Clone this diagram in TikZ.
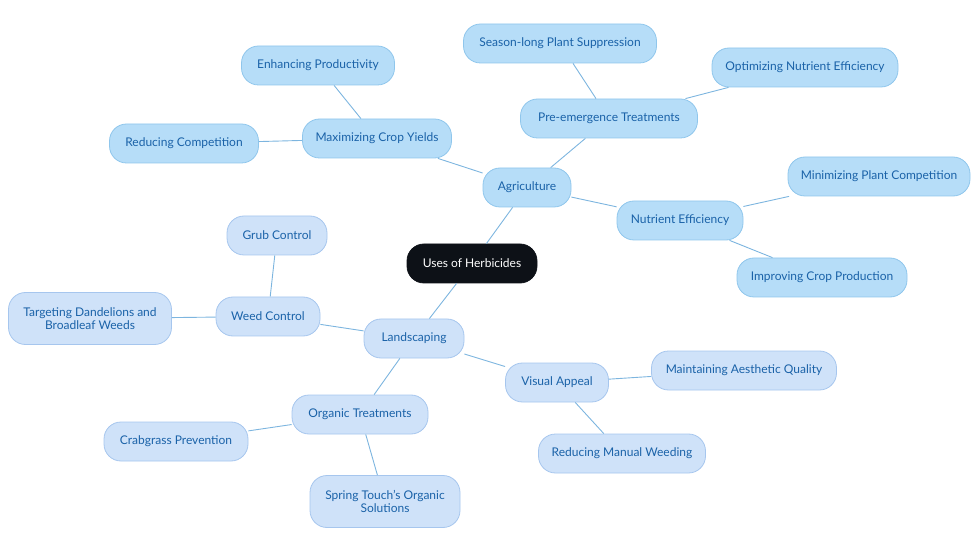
\documentclass[tikz,border=0pt]{standalone}
\usepackage{fontspec}
\setmainfont{Lato}
\definecolor{agfill}{HTML}{B6DDF8}
\definecolor{agdraw}{HTML}{8FC6EC}
\definecolor{lsfill}{HTML}{CFE2F9}
\definecolor{lsdraw}{HTML}{A6C6EE}
\definecolor{txt}{HTML}{1A62A8}
\definecolor{edge}{HTML}{7DB5DF}
\definecolor{root}{HTML}{0D1117}
\begin{document}
\begin{tikzpicture}[x=1pt,y=-1pt,
  base/.style={rounded corners=17pt, line width=0.8pt, text=txt, font=\fontsize{12}{12.5}\selectfont, align=center, inner sep=0pt, minimum height=39pt},
  ag/.style={base, fill=agfill, draw=agdraw},
  ls/.style={base, fill=lsfill, draw=lsdraw},
  rootst/.style={base, fill=root, draw=root, text=white},
  con/.style={draw=edge, line width=0.9pt}]
\useasboundingbox (0,0) rectangle (980,553);
\node[rootst, minimum width=130pt] (root) at (472,263.5) {Uses of Herbicides};
\node[ag, minimum width=88pt] (agri) at (527,187.5) {Agriculture};
\node[ag, minimum width=149pt] (max) at (377,138.5) {Maximizing Crop Yields};
\node[ag, minimum width=153pt] (enh) at (318,65.5) {Enhancing Productivity};
\node[ag, minimum width=149pt] (red) at (184,143.5) {Reducing Competition};
\node[ag, minimum width=177pt] (pre) at (609,118.5) {Pre-emergence Treatments};
\node[ag, minimum width=193pt] (sea) at (560,43.5) {Season-long Plant Suppression};
\node[ag, minimum width=186pt] (opt) at (805,67.5) {Optimizing Nutrient Efficiency};
\node[ag, minimum width=126pt] (nut) at (680,220.5) {Nutrient Efficiency};
\node[ag, minimum width=182pt] (minp) at (879,176.5) {Minimizing Plant Competition};
\node[ag, minimum width=170pt] (imp) at (822,277.5) {Improving Crop Production};
\node[ls, minimum width=100pt] (land) at (414,338.5) {Landscaping};
\node[ls, minimum width=104pt] (weed) at (268,316.5) {Weed Control};
\node[ls, minimum width=100pt] (grub) at (277,235.5) {Grub Control};
\node[ls, minimum width=163pt, minimum height=52pt] (targ) at (90,318.5) {Targeting Dandelions and\\Broadleaf Weeds};
\node[ls, minimum width=103pt] (vis) at (557,382.5) {Visual Appeal};
\node[ls, minimum width=185pt] (main) at (744,370.5) {Maintaining Aesthetic Quality};
\node[ls, minimum width=167pt] (rman) at (622,453.5) {Reducing Manual Weeding};
\node[ls, minimum width=136pt] (org) at (360,414.5) {Organic Treatments};
\node[ls, minimum width=144pt] (crab) at (176,441.5) {Crabgrass Prevention};
\node[ls, minimum width=150pt, minimum height=52pt] (spr) at (385,501.5) {Spring Touch's Organic\\Solutions};
\begin{scope}[on background layer/.style={}]
\end{scope}
\path[con] (root) -- (agri);
\path[con] (agri) -- (max);
\path[con] (max) -- (enh);
\path[con] (max) -- (red);
\path[con] (agri) -- (pre);
\path[con] (pre) -- (sea);
\path[con] (pre) -- (opt);
\path[con] (agri) -- (nut);
\path[con] (nut) -- (minp);
\path[con] (nut) -- (imp);
\path[con] (root) -- (land);
\path[con] (land) -- (weed);
\path[con] (weed) -- (grub);
\path[con] (weed) -- (targ);
\path[con] (land) -- (vis);
\path[con] (vis) -- (main);
\path[con] (vis) -- (rman);
\path[con] (land) -- (org);
\path[con] (org) -- (crab);
\path[con] (org) -- (spr);
\end{tikzpicture}
\end{document}
